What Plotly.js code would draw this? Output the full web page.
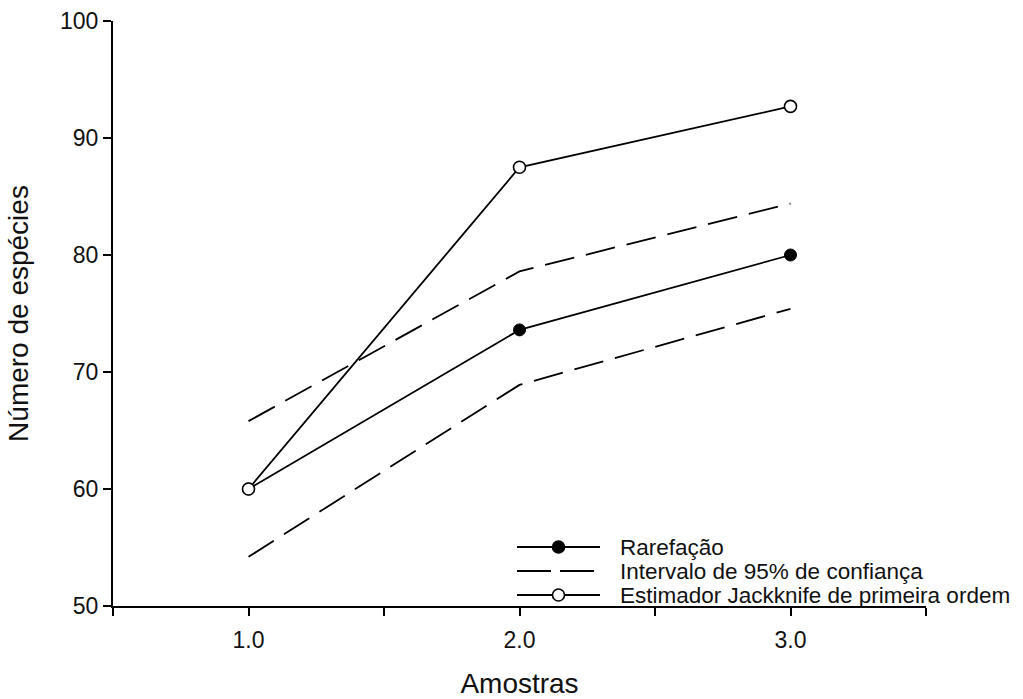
<!DOCTYPE html>
<html>
<head>
<meta charset="utf-8">
<script src="https://cdn.plot.ly/plotly-3.0.1.min.js"></script>
<style>html,body{margin:0;padding:0;background:#fff;}#chart{width:1023px;height:699px;}</style>
</head>
<body>
<div id="chart"></div>
<script>
var amostras = [1, 2, 3];
var rarefacao = [60, 73.6, 80];
var icSuperior = [65.8, 78.6, 84.4];
var icInferior = [54.2, 68.9, 75.4];
var jackknife = [60, 87.5, 92.7];
var xTickVals = [0.5, 1, 1.5, 2, 2.5, 3, 3.5];
var xTickText = ['', '1.0', '', '2.0', '', '3.0', ''];
var yTickVals = [50, 60, 70, 80, 90, 100];
var legendNames = ['Rarefação', 'Intervalo de 95% de confiança', 'Estimador Jackknife de primeira ordem'];

var FONT = 'Liberation Sans, Arial, sans-serif';
var DASH = '30px,12px';
var traces = [
  {x: amostras, y: rarefacao, name: legendNames[0], mode: 'lines+markers',
   line: {color: '#000', width: 1.8},
   marker: {symbol: 'circle', size: 12, color: '#000', line: {color: '#000', width: 1}}},
  {x: amostras, y: icSuperior, name: legendNames[1], mode: 'lines',
   line: {color: '#000', width: 1.8, dash: DASH}},
  {x: amostras, y: icInferior, name: legendNames[1] + ' (inferior)', mode: 'lines',
   line: {color: '#000', width: 1.8, dash: DASH}},
  {x: amostras, y: jackknife, name: legendNames[2], mode: 'lines+markers',
   line: {color: '#000', width: 1.8},
   marker: {symbol: 'circle', size: 12, color: '#fff', line: {color: '#000', width: 1.6}}}
];

// Hand-built legend (paper coordinates of the plot area)
var PL = 113, PW = 813, PB = 606, PH = 585;
function px(v) { return (v - PL) / PW; }
function py(v) { return (PB - v) / PH; }
var rowsY = [547, 571, 595];
var symX0 = 517, symX1 = 600, textX = 619;
var shapes = [];
var annotations = [];
rowsY.forEach(function (yy, i) {
  shapes.push({type: 'line', xref: 'paper', yref: 'paper', x0: px(symX0), x1: px(symX1), y0: py(yy), y1: py(yy),
               line: {color: '#000', width: 1.8, dash: i === 1 ? '34px,9px' : 'solid'}});
  if (i !== 1) {
    shapes.push({type: 'circle', xref: 'paper', yref: 'paper', xsizemode: 'pixel', ysizemode: 'pixel',
                 xanchor: px((symX0 + symX1) / 2), yanchor: py(yy), x0: -6, x1: 6, y0: -6, y1: 6,
                 fillcolor: i === 0 ? '#000' : '#fff', line: {color: '#000', width: 1.6}});
  }
  annotations.push({xref: 'paper', yref: 'paper', x: px(textX), y: py(yy), xanchor: 'left', yanchor: 'middle',
                    showarrow: false, borderpad: 0, text: legendNames[i],
                    font: {family: FONT, size: 22.5, color: '#111'}});
});

var layout = {
  width: 1023, height: 699,
  margin: {l: 113, r: 97, t: 21, b: 93, pad: 0},
  paper_bgcolor: '#fff', plot_bgcolor: '#fff',
  font: {family: FONT, color: '#111', size: 23},
  showlegend: false,
  shapes: shapes,
  annotations: annotations,
  xaxis: {range: [0.5, 3.5], tickmode: 'array', tickvals: xTickVals, ticktext: xTickText,
          ticks: 'outside', ticklen: 8, tickwidth: 2, tickcolor: '#000', ticklabelstandoff: 4,
          showline: true, linewidth: 2, linecolor: '#000', showgrid: false, zeroline: false,
          tickfont: {size: 23}, title: {text: 'Amostras', font: {size: 28}, standoff: 22}},
  yaxis: {range: [50, 100], tickmode: 'array', tickvals: yTickVals,
          ticks: 'outside', ticklen: 8, tickwidth: 2, tickcolor: '#000',
          showline: true, linewidth: 2, linecolor: '#000', showgrid: false, zeroline: false,
          tickfont: {size: 23}, title: {text: 'Número de espécies', font: {size: 28}, standoff: 23}}
};

Plotly.newPlot('chart', traces, layout, {displayModeBar: false, staticPlot: true});
</script>
</body>
</html>
